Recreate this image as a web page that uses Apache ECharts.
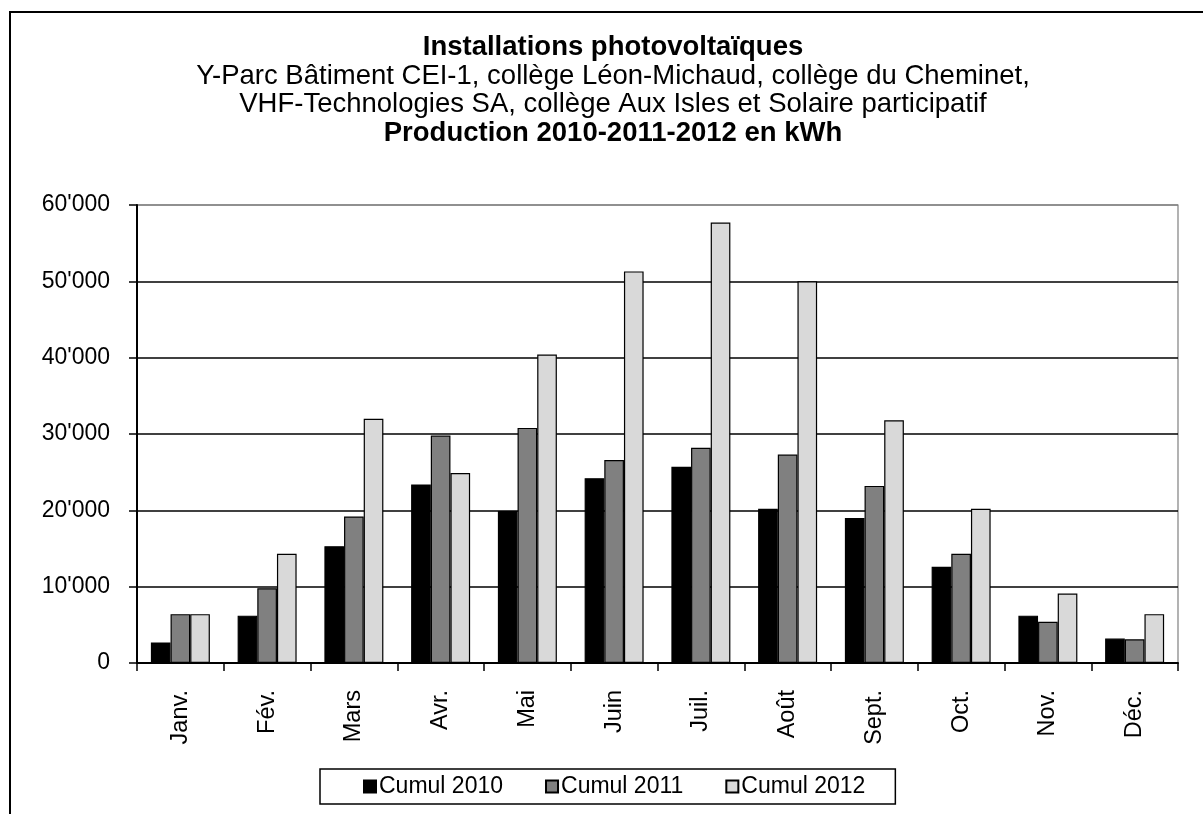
<!DOCTYPE html>
<html>
<head>
<meta charset="utf-8">
<script src="https://cdn.jsdelivr.net/npm/echarts@6/dist/echarts.min.js"></script>
<style>
html,body{margin:0;padding:0;background:#fff;}
#chart{width:1203px;height:814px;}
</style>
</head>
<body>
<div id="chart"></div>
<script>
var months = ['Janv.','Fév.','Mars','Avr.','Mai','Juin','Juil.','Août','Sept.','Oct.','Nov.','Déc.'];
var cumul2010 = [2700, 6200, 15300, 23400, 19900, 24200, 25700, 20200, 19000, 12600, 6200, 3200];
var cumul2011 = [6400, 9800, 19200, 29800, 30800, 26600, 28200, 27300, 23200, 14300, 5400, 3100];
var cumul2012 = [6400, 14300, 32000, 24900, 40400, 51300, 57700, 50000, 31800, 20200, 9100, 6400];
var seriesNames = ['Cumul 2010','Cumul 2011','Cumul 2012'];
var yTicks = [0, 10000, 20000, 30000, 40000, 50000, 60000];

var FONT = '"Liberation Sans", Arial, sans-serif';
var chart = echarts.init(document.getElementById('chart'), null, {renderer:'canvas'});

function fmt(v){ return String(v).replace(/\B(?=(\d{3})+(?!\d))/g, "'"); }

function bar(name, data, color){
  return {
    name: name, type: 'bar', data: data, barGap: '0%', barCategoryGap: '32%',
    itemStyle: {color: color, borderColor: '#000', borderWidth: 1.2},
    emphasis: {disabled: true}
  };
}

chart.setOption({
  animation: false,
  backgroundColor: '#fff',
  textStyle: {fontFamily: FONT, color: '#000'},
  title: {
    left: 613, top: 33, padding: 0, textAlign: 'center',
    text: '{b|Installations photovoltaïques}\n{n|Y-Parc Bâtiment CEI-1, collège Léon-Michaud, collège du Cheminet,}\n{n|VHF-Technologies SA, collège Aux Isles et Solaire participatif}\n{b|Production 2010-2011-2012 en kWh}',
    textStyle: {
      fontFamily: FONT, color: '#000', lineHeight: 28.7,
      rich: {
        b: {fontFamily: FONT, fontSize: 27.5, fontWeight: 'bold', color: '#000', lineHeight: 28.7},
        n: {fontFamily: FONT, fontSize: 27.5, fontWeight: 'normal', color: '#000', lineHeight: 28.7}
      }
    }
  },
  graphic: [{
    type: 'rect', silent: true, z: -1,
    shape: {x: 10, y: 12, width: 1300, height: 900},
    style: {fill: 'none', stroke: '#000', lineWidth: 2}
  }],
  legend: {
    data: seriesNames, left: 320, top: 769,
    padding: [6, 30, 6, 43], itemGap: 42,
    itemWidth: 12, itemHeight: 12, icon: 'rect',
    borderColor: '#000', borderWidth: 1.5,
    textStyle: {fontFamily: FONT, fontSize: 23, color: '#000', padding: [0,0,0,-2]}
  },
  grid: {
    left: 137, right: 25, top: 205, bottom: 151,
    show: true, borderColor: '#808080', borderWidth: 1.2,
    outerBoundsMode: 'none'
  },
  xAxis: {
    type: 'category', data: months,
    boundaryGap: true,
    axisLine: {lineStyle: {color: '#000', width: 2}},
    axisTick: {show: true, alignWithLabel: false, length: 8, inside: false, lineStyle: {color: '#000', width: 1.5}},
    axisLabel: {rotate: 90, margin: 27, fontFamily: FONT, fontSize: 23.5, color: '#000', interval: 0},
    splitLine: {show: false}
  },
  yAxis: {
    type: 'value', min: yTicks[0], max: yTicks[yTicks.length-1], interval: 10000,
    axisLine: {show: true, lineStyle: {color: '#000', width: 2}},
    axisTick: {show: true, length: 8, lineStyle: {color: '#000', width: 1.5}},
    axisLabel: {margin: 27, fontFamily: FONT, fontSize: 23, color: '#000', formatter: fmt},
    splitLine: {show: true, lineStyle: {color: ['#000','#000','#000','#000','#000','#000','#808080'], width: 1.5}}
  },
  series: [
    bar(seriesNames[0], cumul2010, '#000000'),
    bar(seriesNames[1], cumul2011, '#808080'),
    bar(seriesNames[2], cumul2012, '#d9d9d9')
  ]
});
</script>
</body>
</html>
